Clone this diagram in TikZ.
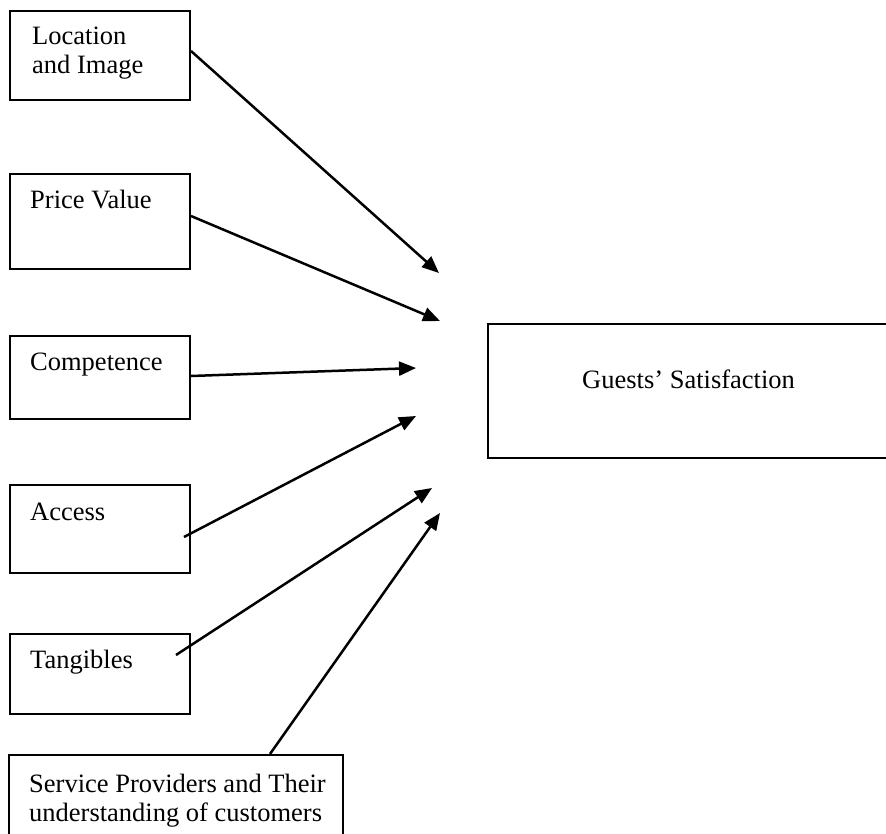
\documentclass[tikz,border=0pt]{standalone}
\usepackage{fontspec}
\setmainfont{Liberation Serif}
\usetikzlibrary{arrows.meta}
\begin{document}
\begin{tikzpicture}[x=1pt,y=-1pt,
  box/.style={draw, line width=2pt, rectangle, inner sep=0pt, anchor=north west},
  lbl/.style={font=\fontsize{26.5}{29}\selectfont, inner sep=0pt, anchor=base west, align=left},
  arr/.style={line width=2.5pt, -{Triangle[length=17pt,width=14pt]}}]
\useasboundingbox (0,0) rectangle (886,834);
\clip (0,0) rectangle (886,834);
% boxes
\node[box, minimum width=180pt, minimum height=89pt] (b1) at (9,10) {};
\node[box, minimum width=180pt, minimum height=95pt] (b2) at (9,173) {};
\node[box, minimum width=180pt, minimum height=83pt] (b3) at (9,335) {};
\node[box, minimum width=180pt, minimum height=88pt] (b4) at (9,484) {};
\node[box, minimum width=180pt, minimum height=80pt] (b5) at (9,633) {};
\node[box, minimum width=334pt, minimum height=100pt] (b6) at (8,754) {};
\node[box, minimum width=420pt, minimum height=134pt] (g) at (487,323) {};
% labels (anchor = baseline of last line)
\node[lbl] (t1) at (32,74) {Location\\and Image};
\node[lbl] (t2) at (30,209) {Price Value};
\node[lbl] (t3) at (30,370) {Competence};
\node[lbl] (t4) at (30,520) {Access};
\node[lbl] (t5) at (30,668) {Tangibles};
\node[lbl] (t6) at (29,821) {Service Providers and Their\\understanding of customers};
\node[lbl] (tg) at (582,388) {Guests’ Satisfaction};
% arrow tips (free ends)
\coordinate (e1) at (439,273);
\coordinate (e2) at (440,321);
\coordinate (e3) at (416,368);
\coordinate (e4) at (416,416);
\coordinate (e5) at (432,488);
\coordinate (e6) at (440,513);
% connectors
\draw[arr] ([yshift=4.5pt]b1.east) -- (e1);
\draw[arr] ([yshift=5.5pt]b2.east) -- (e2);
\draw[arr] ([yshift=1.5pt]b3.east) -- (e3);
\draw[arr] ([xshift=-7pt,yshift=-8pt]b4.east) -- (e4);
\draw[arr] ([xshift=-15pt,yshift=19pt]b5.east) -- (e5);
\draw[arr] ([xshift=262pt]b6.north west) -- (e6);
\end{tikzpicture}
\end{document}
